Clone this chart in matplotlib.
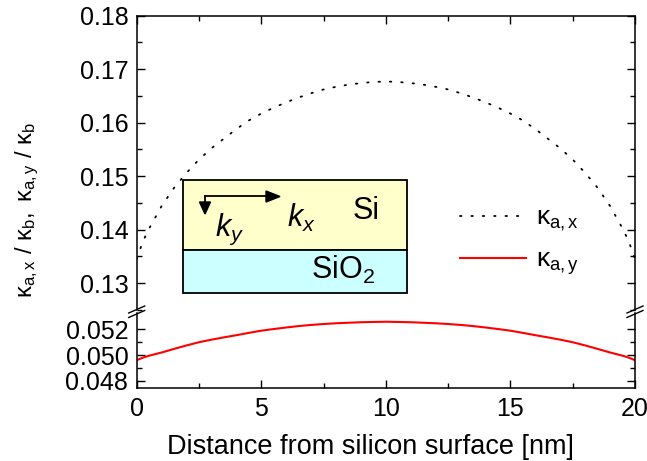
import numpy as np
import matplotlib
matplotlib.use("Agg")
import matplotlib.pyplot as plt
from matplotlib.lines import Line2D
from matplotlib.patches import Rectangle, FancyArrow

plt.rcParams['font.family'] = ['Liberation Sans', 'DejaVu Sans']
plt.rcParams['mathtext.fontset'] = 'custom'
plt.rcParams['mathtext.rm'] = 'Liberation Sans'
plt.rcParams['mathtext.it'] = 'Liberation Sans:italic'

# half profiles (0..10 nm), mirrored about the centre of the 20 nm film
x_half = [0, 0.25, 0.5, 1, 1.5, 2, 2.5, 3, 3.5, 4, 4.5, 5, 5.5, 6, 6.5, 7, 7.5, 8, 8.5, 9, 9.5, 10]
kax_half = [0.1345, 0.1378, 0.1402, 0.1444, 0.1478, 0.1506, 0.1531, 0.1552, 0.1570, 0.1588,
            0.1604, 0.1617, 0.1628, 0.1638, 0.1647, 0.1655, 0.1662, 0.1667, 0.1671, 0.1674,
            0.1676, 0.1677]
kay_half = [0.04960, 0.0498, 0.04995, 0.0502, 0.05048, 0.05075, 0.0510, 0.0512, 0.05138, 0.05155,
            0.05173, 0.0519, 0.05203, 0.05215, 0.05226, 0.05235, 0.05242, 0.05248, 0.05252, 0.05256,
            0.05258, 0.0526]

x = np.concatenate([x_half, 20 - np.array(x_half[-2::-1])])
kax = np.concatenate([kax_half, kax_half[-2::-1]])
kay = np.concatenate([kay_half, kay_half[-2::-1]])

W, H = 647, 461
fig = plt.figure(figsize=(W / 100, H / 100), dpi=100)
left, right = 136.7 / W, 635 / W
ax_top = fig.add_axes([left, 1 - 310.5 / H, right - left, (310.5 - 15.7) / H])
ax_bot = fig.add_axes([left, 1 - 387.5 / H, right - left, (387.5 - 313) / H])

dots = (0, (0.8, 5.5))
ax_top.plot(x, kax, color='black', lw=1.3, linestyle=dots, dash_capstyle='round')
ax_bot.plot(x, kay, color='red', lw=1.5)

ax_top.set_ylim(0.12486, 0.18)
ax_bot.set_ylim(0.04747, 0.05328)
for ax in (ax_top, ax_bot):
    ax.set_xlim(0, 20)
    ax.set_xticks([0, 5, 10, 15, 20])
    ax.set_xticks([2.5, 7.5, 12.5, 17.5], minor=True)
    for s in ax.spines.values():
        s.set_linewidth(1.1)
    ax.tick_params(which='both', direction='in', right=True, width=1.0, labelsize=18)
    ax.tick_params(which='major', length=6)
    ax.tick_params(which='minor', length=3.5)
    ax.tick_params(axis='y', pad=6)

ax_top.spines['bottom'].set_visible(False)
ax_top.tick_params(which='both', bottom=False, labelbottom=False, top=True)
ax_top.set_yticks([0.13, 0.14, 0.15, 0.16, 0.17, 0.18])
ax_top.set_yticklabels(['0.13', '0.14', '0.15', '0.16', '0.17', '0.18'])
ax_top.set_yticks([0.125, 0.135, 0.145, 0.155, 0.165, 0.175], minor=True)

ax_bot.spines['top'].set_visible(False)
ax_bot.set_yticks([0.048, 0.050, 0.052])
ax_bot.set_yticklabels(['0.048', '0.050', '0.052'])
ax_bot.set_yticks([0.049, 0.051], minor=True)
ax_bot.set_xticklabels(['0', '5', '10', '15', '20'])
ax_bot.tick_params(axis='x', pad=7)
ax_bot.set_xlabel('Distance from silicon surface [nm]', fontsize=19.5)
ax_bot.xaxis.set_label_coords((370 - 136.7) / (635 - 136.7), -0.62)

fig.text(27 / W, 1 - 210 / H, r'$\mathrm{κ_{a,x}\ /\ κ_b,\ κ_{a,y}\ /\ κ_b}$',
         rotation=90, fontsize=17, ha='center', va='center')

# axis break marks
for xb in (136.7, 635):
    for yb in (309.5, 314):
        fig.add_artist(Line2D([(xb - 8) / W, (xb + 8) / W], [1 - (yb + 3.5) / H, 1 - (yb - 3.5) / H],
                              color='black', lw=1.0))

# inset sketch of the Si / SiO2 stack
bx0, bx1 = 182.7 / W, 406.7 / W
by_top, by_mid, by_bot = 1 - 180 / H, 1 - 250 / H, 1 - 293.3 / H
fig.add_artist(Rectangle((bx0, by_mid), bx1 - bx0, by_top - by_mid, facecolor='#ffffcc',
                         edgecolor='black', lw=1.3))
fig.add_artist(Rectangle((bx0, by_bot), bx1 - bx0, by_mid - by_bot, facecolor='#ccffff',
                         edgecolor='black', lw=1.3))
cx, cy = 205 / W, 1 - 196.5 / H
fig.add_artist(Line2D([cx, cx], [cy, 1 - 206 / H], color='black', lw=1.3))
fig.add_artist(Line2D([cx, 270 / W], [cy, cy], color='black', lw=1.3))
fig.add_artist(FancyArrow(266 / W, cy, 14 / W, 0, width=0, head_width=11 / H,
                          head_length=14 / W, length_includes_head=True,
                          color='black', transform=fig.transFigure))
fig.add_artist(FancyArrow(cx, 1 - 202 / H, 0, -12 / H, width=0, head_width=11 / W,
                          head_length=12 / H, length_includes_head=True,
                          color='black', transform=fig.transFigure))
fig.text(287 / W, 1 - 218 / H, r'$k_x$', fontsize=22, ha='left', va='center')
fig.text(215 / W, 1 - 229 / H, r'$k_y$', fontsize=22, ha='left', va='center')
fig.text(366 / W, 1 - 211 / H, 'Si', fontsize=22, ha='center', va='center')
fig.text(343 / W, 1 - 270 / H, r'SiO$_2$', fontsize=22, ha='center', va='center')

handles = [Line2D([], [], color='black', lw=1.3, linestyle=dots, dash_capstyle='round'),
           Line2D([], [], color='red', lw=1.5)]
labels = [r'$\mathrm{κ_{a,x}}$', r'$\mathrm{κ_{a,y}}$']
fig.legend(handles, labels, loc='upper left', bbox_to_anchor=(436 / W, 1 - 182 / H),
           frameon=False, fontsize=19, handlelength=2.5, labelspacing=0.55, handletextpad=0.4)

fig.savefig('out.png', dpi=100)
